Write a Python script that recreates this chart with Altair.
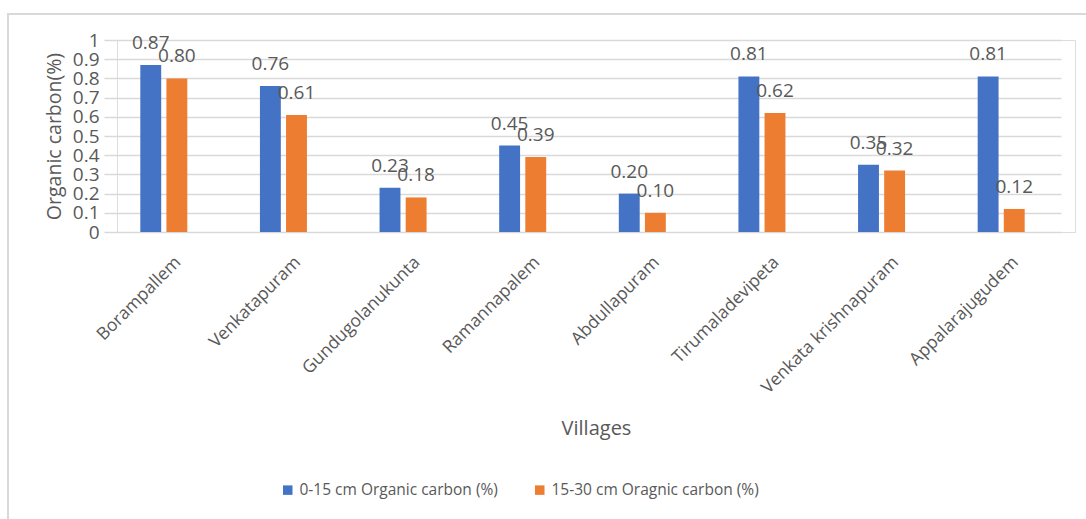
import altair as alt
import pandas as pd

# Villages sampled and organic carbon (%) at two soil depths
villages = [
    "Borampallem", "Venkatapuram", "Gundugolanukunta", "Ramannapalem",
    "Abdullapuram", "Tirumaladevipeta", "Venkata krishnapuram", "Appalarajugudem",
]
series_names = ["0-15 cm Organic carbon (%)", "15-30 cm Oragnic carbon (%)"]
oc_0_15 = [0.87, 0.76, 0.23, 0.45, 0.20, 0.81, 0.35, 0.81]
oc_15_30 = [0.80, 0.61, 0.18, 0.39, 0.10, 0.62, 0.32, 0.12]
y_ticks = [0, 0.1, 0.2, 0.3, 0.4, 0.5, 0.6, 0.7, 0.8, 0.9, 1]
colors = ["#4472C4", "#ED7D31"]

rows = []
for v, a, b in zip(villages, oc_0_15, oc_15_30):
    rows.append({"village": v, "series": series_names[0], "value": a})
    rows.append({"village": v, "series": series_names[1], "value": b})
df = pd.DataFrame(rows)

FONT = "Open Sans"
GREY = "#595959"
GRID = "#d9d9d9"

x_enc = alt.X(
    "village:N", sort=villages,
    scale=alt.Scale(range=[-13, 944], paddingInner=0.607, paddingOuter=0.3035),
    axis=alt.Axis(
        title="Villages", labelAngle=-45, labelFontSize=17.5, labelColor=GREY,
        labelFont=FONT, labelPadding=21, labelOffset=8, labelLimit=300,
        domain=False, ticks=False,
        titleFont=FONT, titleFontSize=20, titleFontWeight="normal", titleColor=GREY,
        titleX=479, titleY=202, titleBaseline="alphabetic",
    ),
)
xoff_enc = alt.XOffset("series:N", sort=series_names, scale=alt.Scale(paddingInner=0.2))
y_enc = alt.Y(
    "value:Q",
    scale=alt.Scale(domain=[0, 1], nice=False),
    axis=alt.Axis(
        title="Organic carbon(%)", values=y_ticks, format="~g",
        labelFontSize=19, labelColor=GREY, labelFont=FONT, labelPadding=18,
        domain=False, ticks=False, grid=True, gridColor=GRID, gridWidth=1.5,
        titleFont=FONT, titleFontSize=19.5, titleFontWeight="normal", titleColor=GREY,
        titleX=-57, titleBaseline="alphabetic",
    ),
)

bars = alt.Chart(df).mark_bar().encode(
    x=x_enc,
    xOffset=xoff_enc,
    y=y_enc,
    color=alt.Color(
        "series:N", sort=series_names,
        scale=alt.Scale(domain=series_names, range=colors),
        legend=alt.Legend(
            title=None, orient="none", direction="horizontal",
            legendX=163, legendY=442, symbolType="square", symbolSize=90,
            symbolStrokeWidth=0, labelFont=FONT, labelFontSize=15.5,
            labelColor=GREY, labelOffset=4, labelLimit=400, columnPadding=34,
        ),
    ),
)

labels = alt.Chart(df).mark_text(
    baseline="alphabetic", dy=-16, fontSize=19, font=FONT, color=GREY
).encode(
    x=x_enc,
    xOffset=xoff_enc,
    y=y_enc,
    text=alt.Text("value:Q", format=".2f"),
)

# light frame around the whole figure (right and bottom edges fall outside)
frame = alt.Chart(df).mark_rect(
    fill=None, stroke=GRID, strokeWidth=2
).encode(
    x=alt.value(-109), x2=alt.value(1000),
    y=alt.value(-26), y2=alt.value(520),
)

chart = alt.layer(frame, bars, labels).properties(
    width=958, height=192,
    autosize=alt.AutoSizeParams(type="none"),
    padding={"left": 117, "top": 40, "right": 11, "bottom": 287},
).configure_view(stroke=None).configure(background="white")

chart.save("out.html", embed_options={"renderer": "svg", "actions": False})
